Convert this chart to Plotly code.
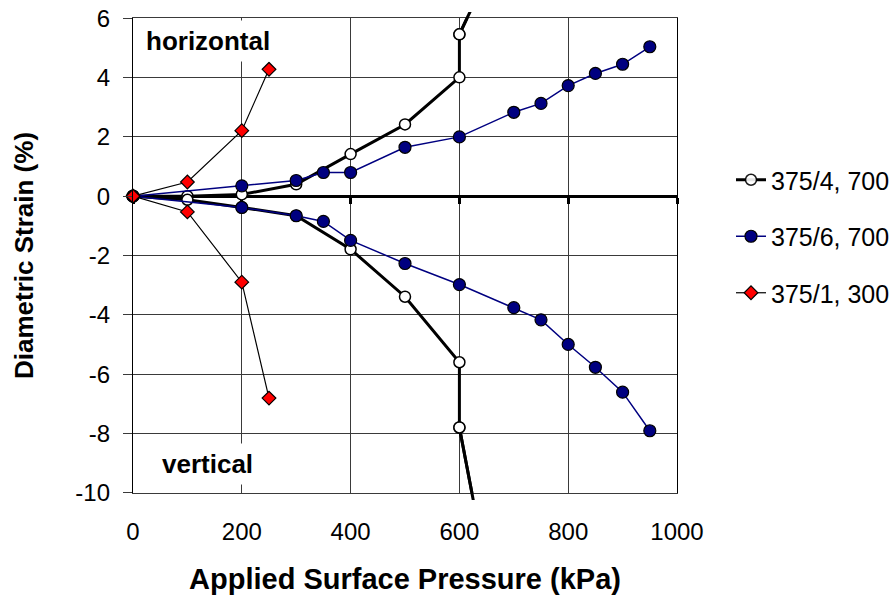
import plotly.graph_objects as go

# ---------------- data ----------------
x_ticks = [0, 200, 400, 600, 800, 1000]
x_tick_labels = ["0", "200", "400", "600", "800", "1000"]
y_ticks = [-10, -8, -6, -4, -2, 0, 2, 4, 6]
y_tick_labels = ["-10", "-8", "-6", "-4", "-2", "0", "2", "4", "6"]

# 375/4, 700 (black, open circles)
p_375_4 = [0, 100, 200, 300, 400, 500, 600, 600, 650]
h_375_4 = [0, 0.0, 0.06, 0.40, 1.42, 2.42, 4.01, 5.46, 7.4]
v_375_4 = [0, -0.12, -0.38, -0.66, -1.79, -3.39, -5.60, -7.80, -12.6]

# 375/6, 700 (navy, filled circles)
p_375_6 = [0, 200, 300, 350, 400, 500, 600, 700, 750, 800, 850, 900, 950]
h_375_6 = [0, 0.35, 0.53, 0.80, 0.80, 1.65, 2.00, 2.83, 3.13, 3.73, 4.14, 4.45, 5.04]
v_375_6 = [0, -0.38, -0.66, -0.85, -1.49, -2.27, -2.98, -3.76, -4.17, -5.00, -5.77, -6.61, -7.91]

# 375/1, 300 (red diamonds)
p_375_1 = [0, 100, 200, 250]
h_375_1 = [0, 0.48, 2.21, 4.28]
v_375_1 = [0, -0.53, -2.90, -6.81]

names = ["375/4, 700", "375/6, 700", "375/1, 300"]

# ---------------- layout geometry ----------------
W, H = 896, 596
PL, PR, PT, PB = 133, 677, 18.3, 492.7     # plot frame in pixels
CT, CB = 12, 500                            # line overflow clip (Excel style)
X_RANGE = [0, 1000]
Y_RANGE = [-10, 6]
FONT = "Liberation Sans, Arial, sans-serif"

d0 = (CB - PB) / (CB - CT)
d1 = (CB - PT) / (CB - CT)
span = Y_RANGE[1] - Y_RANGE[0]
y_over = [Y_RANGE[0] - span * d0 / (d1 - d0), Y_RANGE[1] + span * (1 - d1) / (d1 - d0)]
zero_pos = d0 + (0 - Y_RANGE[0]) / span * (d1 - d0)


def vis(ys):
    return [1 if Y_RANGE[0] <= y <= Y_RANGE[1] else 0 for y in ys]


styles = [
    dict(line=dict(color="black", width=3),
         marker=dict(symbol="circle", size=11, color="white", line=dict(color="black", width=1.5))),
    dict(line=dict(color="#000080", width=1.5),
         marker=dict(symbol="circle", size=12, color="#000080", line=dict(color="black", width=1.2))),
    dict(line=dict(color="black", width=1.2),
         marker=dict(symbol="diamond", size=10.5, color="#FF0000", line=dict(color="black", width=1.2))),
]
series = [
    (p_375_4, h_375_4, v_375_4),
    (p_375_6, h_375_6, v_375_6),
    (p_375_1, h_375_1, v_375_1),
]

fig = go.Figure()
for i, (px, hy, vy) in enumerate(series):
    st = styles[i]
    for j, ys in enumerate([hy, vy]):
        mk = dict(st["marker"])
        mk["opacity"] = vis(ys)
        fig.add_trace(go.Scatter(
            x=px, y=ys, mode="lines+markers", name=names[i],
            legendgroup=names[i], showlegend=(j == 0),
            line=st["line"], marker=mk, cliponaxis=False,
            hoverinfo="skip"))

# overflowing ends of the 375/4 curves (drawn on an invisible, slightly larger subplot)
for ys in [h_375_4, v_375_4]:
    mk = dict(styles[0]["marker"])
    mk["opacity"] = vis(ys[-2:])
    fig.add_trace(go.Scatter(
        x=p_375_4[-2:], y=ys[-2:], mode="lines+markers", xaxis="x3", yaxis="y3",
        showlegend=False, line=styles[0]["line"], marker=mk, cliponaxis=False,
        hoverinfo="skip"))

# carrier for the thick zero axis
fig.add_trace(go.Scatter(x=[], y=[], xaxis="x2", yaxis="y", showlegend=False, hoverinfo="skip"))

grid = "#3a3a3a"
fig.update_layout(
    width=W, height=H,
    template="none",
    paper_bgcolor="white", plot_bgcolor="rgba(0,0,0,0)",
    margin=dict(l=PL, r=W - PR, t=CT, b=H - CB, pad=0, autoexpand=False),
    font=dict(family=FONT, size=24, color="black"),
    showlegend=True,
    legend=dict(
        x=(731 - PL) / (PR - PL), y=(CB - 157) / (CB - CT),
        xanchor="left", yanchor="top",
        font=dict(family=FONT, size=25, color="black"),
        tracegroupgap=21, bgcolor="rgba(0,0,0,0)", borderwidth=0,
    ),
    xaxis=dict(
        domain=[0, 1], range=X_RANGE, tickvals=x_ticks, ticktext=x_tick_labels,
        showgrid=True, gridcolor=grid, gridwidth=1, zeroline=False,
        showline=True, linecolor=grid, linewidth=1, mirror=True,
        ticks="", ticklabelstandoff=17, automargin=False,
        tickfont=dict(family=FONT, size=24),
        title=dict(text="Applied Surface Pressure (kPa)",
                   font=dict(family=FONT, size=29, weight="bold"), standoff=25),
    ),
    yaxis=dict(
        domain=[d0, d1], range=Y_RANGE, tickvals=y_ticks, ticktext=y_tick_labels,
        showgrid=True, gridcolor=grid, gridwidth=1, zeroline=False,
        showline=True, linecolor="black", linewidth=1.3, mirror=True,
        ticks="outside", ticklen=9, tickcolor=grid, tickwidth=1,
        ticklabelstandoff=8, automargin=False,
        tickfont=dict(family=FONT, size=24),
        title=dict(text="Diametric Strain (%)",
                   font=dict(family=FONT, size=26, weight="bold"), standoff=34),
    ),
    xaxis2=dict(
        overlaying="x", anchor="free", position=zero_pos, side="bottom",
        range=X_RANGE, tickvals=x_ticks, showticklabels=False,
        ticks="outside", ticklen=6, tickwidth=3, tickcolor="black",
        showline=True, linewidth=3, linecolor="black",
        showgrid=False, zeroline=False, layer="below traces", automargin=False,
    ),
    xaxis3=dict(domain=[0, 1], range=X_RANGE, anchor="y3", visible=False, automargin=False),
    yaxis3=dict(domain=[0, 1], range=y_over, anchor="x3", visible=False, automargin=False),
    annotations=[
        dict(x=137, y=5.24, xref="x", yref="y", text="horizontal", showarrow=False,
             font=dict(family=FONT, size=26, weight="bold"), bgcolor="white", borderpad=5),
        dict(x=137, y=-9.02, xref="x", yref="y", text="vertical", showarrow=False,
             font=dict(family=FONT, size=26, weight="bold"), bgcolor="white", borderpad=5),
    ],
)

fig.write_html("out.html")
